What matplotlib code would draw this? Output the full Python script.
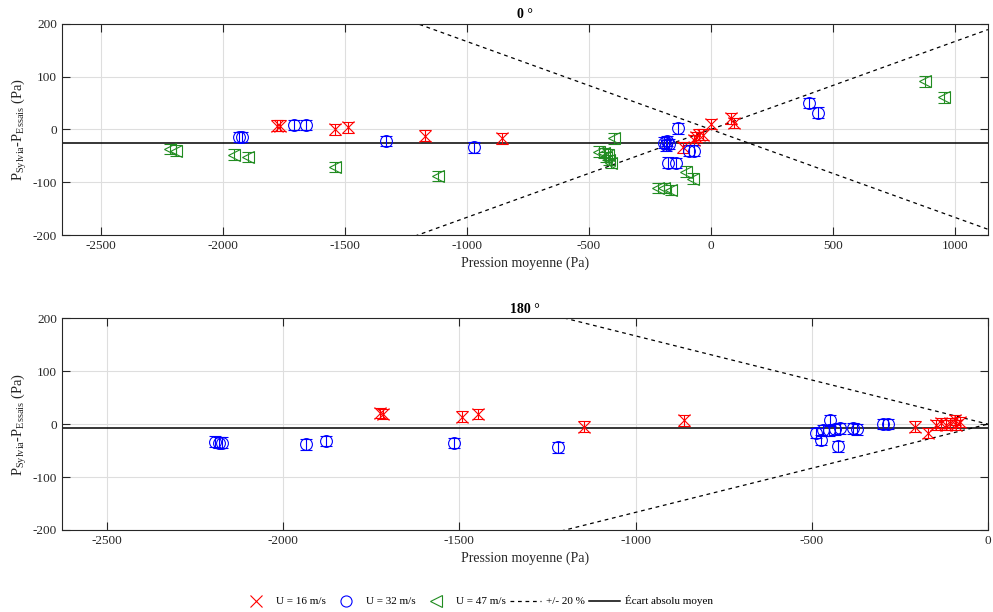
import numpy as np
import matplotlib
matplotlib.use('Agg')
from matplotlib import pyplot as plt
from matplotlib.lines import Line2D

plt.rcParams['font.family'] = ['Liberation Serif', 'DejaVu Serif']
plt.rcParams['font.size'] = 9.5
plt.rcParams['axes.unicode_minus'] = False
plt.rcParams['mathtext.fontset'] = 'custom'
plt.rcParams['mathtext.rm'] = 'Liberation Serif'
plt.rcParams['mathtext.it'] = 'Liberation Serif:italic'

# ---- data, 0 deg ----
red_x0 = [-1778, -1766, -1541, -1485, -1169, -857, -116, -68, -61, -48, -34, 0, 82, 95]
red_y0 = [7, 7, 0, 4, -12, -17, -34, -20, -14, -10, -10, 10, 21, 12]
blue_x0 = [-1934, -1922, -1708, -1660, -1329, -972, -190, -184, -178, -172,
           -136, -177, -143, -89, -68, 401, 438]
blue_y0 = [-14, -14, 8, 8, -22, -34, -25, -30, -22, -28, 2, -63, -64, -40, -40, 50, 32]
green_x0 = [-2216, -2190, -1955, -1895, -1541, -1117, -458, -437, -429, -422,
            -416, -409, -395, -218, -191, -164, -102, -75, 879, 953]
green_y0 = [-37, -40, -48, -52, -71, -88, -42, -45, -52, -48, -58, -64, -17,
            -111, -111, -115, -80, -93, 91, 61]
mean0 = -25

# ---- data, 180 deg ----
red_x180 = [-1726, -1716, -1494, -1447, -1146, -864, -206, -170, -147, -132,
            -118, -109, -94, -90, -80]
red_y180 = [21, 19, 14, 19, -5, 7, -5, -17, -2, 2, -2, 2, 8, -2, 4]
blue_x180 = [-2194, -2183, -2174, -1934, -1879, -1515, -1220, -487, -473, -468,
             -451, -447, -435, -421, -425, -383, -373, -298, -284]
blue_y180 = [-33, -35, -35, -38, -32, -36, -44, -17, -30, -12, -12, 7, -10, -8,
             -42, -8, -10, 0, 0]
mean180 = -8

ERR = 10          # error bar half-height (Pa)
TOL = 0.2         # +/- 20 %

RED = (1, 0, 0)
BLUE = (0, 0, 1)
GREEN = (0.13, 0.55, 0.13)
DARK = '#262626'


def draw_set(ax, x, y, mk, clr):
    ax.errorbar(x, y, yerr=ERR, fmt=mk, color=clr, mfc='none', ms=8.5,
                mew=0.8, elinewidth=0.8, capsize=4.5, capthick=0.8, zorder=3)


def style_ax(ax, xlim, xticks, title):
    ax.set_xlim(xlim)
    ax.set_ylim((-200, 200))
    ax.set_xticks(xticks)
    ax.set_yticks([-200, -100, 0, 100, 200])
    ax.grid(True, color='#dedede', linewidth=0.8)
    ax.set_axisbelow(True)
    ax.tick_params(direction='in', top=True, right=True, length=6,
                   width=0.8, colors=DARK, labelcolor=DARK, labelsize=9.5)
    for s in ax.spines.values():
        s.set_color(DARK)
        s.set_linewidth(0.8)
    ax.set_title(title, fontweight='bold', fontsize=10, pad=4)
    ax.set_xlabel('Pression moyenne (Pa)', color=DARK, labelpad=3, fontsize=10)
    ax.set_ylabel(r'P$_{\mathrm{Sylvia}}$-P$_{\mathrm{Essais}}$ (Pa)', color=DARK,
                  labelpad=3, fontsize=10.5)


def draw_ref(ax, xlim, mean):
    xx = np.array(xlim)
    k = TOL / (1 + TOL)
    ax.plot(xx, k * xx, 'k--', lw=0.9, dashes=(3, 3), zorder=2)
    ax.plot(xx, -k * xx, 'k--', lw=0.9, dashes=(3, 3), zorder=2)
    ax.axhline(mean, color='k', lw=1.1, zorder=2)


fig = plt.figure(figsize=(9.93, 6.12), dpi=100)

ax1 = fig.add_axes([0.0624, 0.616, 0.9325, 0.345])
xl1 = (-2658, 1135)
draw_ref(ax1, xl1, mean0)
draw_set(ax1, red_x0, red_y0, 'x', RED)
draw_set(ax1, blue_x0, blue_y0, 'o', BLUE)
draw_set(ax1, green_x0, green_y0, '<', GREEN)
style_ax(ax1, xl1, [-2500, -2000, -1500, -1000, -500, 0, 500, 1000], '0 °')

ax2 = fig.add_axes([0.0624, 0.134, 0.9325, 0.346])
xl2 = (-2628, 0)
draw_ref(ax2, xl2, mean180)
draw_set(ax2, red_x180, red_y180, 'x', RED)
draw_set(ax2, blue_x180, blue_y180, 'o', BLUE)
style_ax(ax2, xl2, [-2500, -2000, -1500, -1000, -500, 0], '180 °')

handles = [
    Line2D([], [], ls='none', marker='x', color=RED, ms=8, mew=0.8),
    Line2D([], [], ls='none', marker='o', color=BLUE, mfc='none', ms=8, mew=0.8),
    Line2D([], [], ls='none', marker='<', color=GREEN, mfc='none', ms=8, mew=0.8),
    Line2D([], [], color='k', ls='--', lw=0.9, dashes=(3, 3)),
    Line2D([], [], color='k', lw=1.1),
]
labels = ['U = 16 m/s', 'U = 32 m/s', 'U = 47 m/s', '+/- 20 %', 'Écart absolu moyen']
fig.legend(handles, labels, loc='center', bbox_to_anchor=(0.48, 0.018), ncol=5,
           frameon=False, fontsize=8, handlelength=2.8, handletextpad=0.4,
           columnspacing=0.4)

plt.savefig('out.png', dpi=100)
